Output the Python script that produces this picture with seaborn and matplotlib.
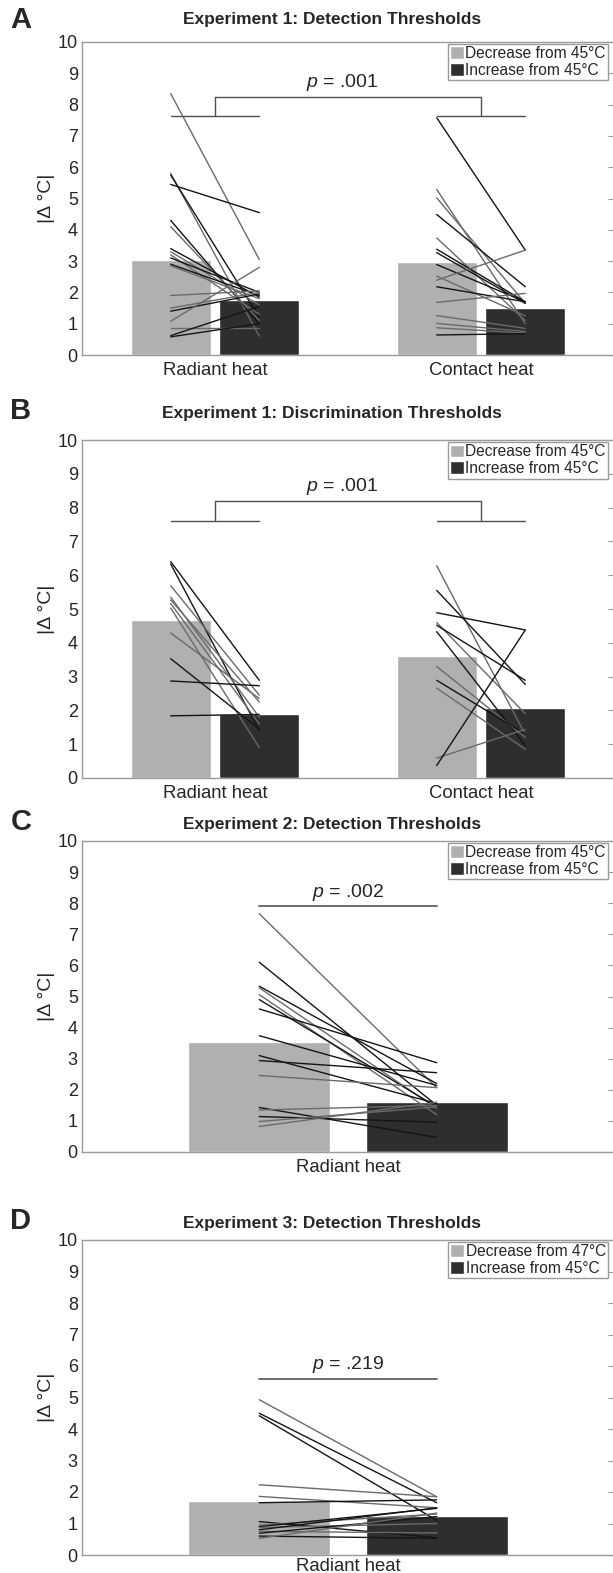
import pandas as pd
import matplotlib.pyplot as plt
import seaborn as sns
from matplotlib.patches import Patch

# ---- data ----
exp1_conditions = ["Radiant heat", "Contact heat"]
exp23_conditions = ["Radiant heat"]

# bar heights (group means)
a_dec_means = [3.02, 2.98]
a_inc_means = [1.77, 1.50]
b_dec_means = [4.68, 3.62]
b_inc_means = [1.90, 2.08]
c_dec_means = [3.55]
c_inc_means = [1.62]
d_dec_means = [1.70]
d_inc_means = [1.25]

# individual subjects, Experiment 1 detection
a_rad_dec = [8.35, 5.80, 5.75, 5.45, 4.30, 4.10, 3.40, 3.30, 3.20, 3.10, 2.90, 2.85, 1.90, 1.50, 1.40, 1.08, 0.85, 0.62, 0.58]
a_rad_inc = [3.05, 0.60, 1.20, 4.55, 1.00, 1.10, 1.85, 1.60, 1.30, 2.00, 1.90, 1.80, 2.05, 2.00, 1.95, 2.80, 0.85, 1.55, 1.00]
a_con_dec = [7.58, 5.29, 5.02, 4.49, 3.74, 3.38, 3.27, 2.89, 2.52, 2.39, 2.18, 1.68, 1.26, 1.01, 0.87, 0.64]
a_con_inc = [3.35, 1.00, 1.65, 2.18, 1.10, 1.70, 1.65, 1.70, 1.25, 3.35, 1.70, 1.97, 0.85, 0.75, 0.70, 0.68]

# Experiment 1 discrimination
b_rad_dec = [6.40, 6.33, 5.69, 5.35, 5.27, 5.16, 5.03, 4.29, 3.53, 2.87, 1.84]
b_rad_inc = [2.89, 1.40, 2.45, 1.80, 2.25, 1.60, 0.90, 2.35, 1.45, 2.73, 1.88]
b_con_dec = [6.28, 5.55, 4.89, 4.60, 4.52, 4.33, 3.30, 2.89, 2.66, 0.59, 0.37]
b_con_inc = [1.28, 2.77, 4.38, 1.90, 2.89, 0.96, 1.20, 1.30, 0.85, 1.44, 4.38]

# Experiment 2 detection
c_rad_dec = [7.66, 6.10, 5.33, 5.28, 5.06, 4.90, 4.60, 3.74, 3.10, 2.94, 2.46, 1.43, 1.35, 1.14, 0.98, 0.82]
c_rad_inc = [2.07, 1.50, 2.20, 1.40, 1.20, 1.45, 2.87, 2.14, 1.56, 2.55, 2.07, 0.47, 1.50, 0.96, 1.45, 1.60]

# Experiment 3 detection
d_rad_dec = [4.93, 4.50, 4.42, 2.23, 1.86, 1.66, 1.06, 0.95, 0.90, 0.87, 0.80, 0.75, 0.69, 0.60, 0.53]
d_rad_inc = [1.85, 1.66, 1.10, 1.85, 1.50, 1.75, 0.55, 1.30, 1.48, 1.00, 1.50, 0.70, 1.22, 0.53, 1.33]

# line tone per subject (g = grey, k = black)
a_rad_tone = "ggkkkgkggkkgggkggkk"
a_con_tone = "kggkgkkkggkggggk"
b_rad_tone = "kkggggggkkk"
b_con_tone = "gkkgkkgkggk"
c_rad_tone = "gkkggkkkkkgkgkgg"
d_rad_tone = "gkkggkkgkgkgkkg"

p_values = [".001", ".001", ".002", ".219"]

LIGHT = "#b0b0b0"
DARK = "#2e2e2e"
TONES = {"g": "#6a6a6a", "k": "#141414"}
SPINE = "#9a9a9a"

sns.set_style("white")
plt.rcParams["font.family"] = ["Liberation Sans", "DejaVu Sans"]
plt.rcParams["mathtext.fontset"] = "custom"
plt.rcParams["mathtext.it"] = "Liberation Sans:italic"
plt.rcParams["mathtext.rm"] = "Liberation Sans"


def draw_panel(ax, conditions, dec_means, inc_means, subjects, labels, width, gap, title,
               title_pad, sig, xpad=5):
    rows = []
    for c, d, i in zip(conditions, dec_means, inc_means):
        rows.append({"condition": c, "direction": labels[0], "threshold": d})
        rows.append({"condition": c, "direction": labels[1], "threshold": i})
    df = pd.DataFrame(rows)
    sns.barplot(data=df, x="condition", y="threshold", hue="direction",
                hue_order=labels, palette=[LIGHT, DARK], saturation=1,
                width=width, gap=gap, errorbar=None, legend=False, ax=ax)

    off = width / 4
    for k, (dec, inc, tone) in enumerate(subjects):
        for y0, y1, t in zip(dec, inc, tone):
            ax.plot([k - off, k + off], [y0, y1], color=TONES[t], lw=1.0, zorder=3)

    # significance marks
    lo, hi, ptxt = sig
    n = len(conditions)
    if n == 2:
        for k in range(2):
            ax.plot([k - off, k + off], [lo, lo], color="#505050", lw=1.0)
            ax.plot([k, k], [lo, hi], color="#505050", lw=1.0)
        ax.plot([0, 1], [hi, hi], color="#505050", lw=1.0)
        ax.text(0.48, hi + 0.12, r"$\it{p}$ = " + ptxt, ha="center", va="bottom", fontsize=14)
    else:
        ax.plot([-off, off], [lo, lo], color="#606060", lw=1.3)
        ax.text(0, lo + 0.12, r"$\it{p}$ = " + ptxt, ha="center", va="bottom", fontsize=14)

    ax.set_xlim(-0.5, n - 0.5)
    ax.set_ylim(0, 10)
    ax.set_yticks(range(11))
    ax.set_xlabel("")
    ax.set_ylabel("|Δ °C|", fontsize=14, labelpad=2)
    ax.set_title(title, fontweight="bold", fontsize=12.5, pad=title_pad, x=0.47)
    ax.tick_params(axis="y", direction="in", length=4, right=True, color=SPINE,
                   labelsize=13, pad=3)
    ax.tick_params(axis="x", length=0, labelsize=13.3, pad=xpad)
    for s in ax.spines.values():
        s.set_visible(True)
        s.set_color(SPINE)
        s.set_linewidth(1.0)

    handles = [Patch(facecolor=LIGHT, label=labels[0]), Patch(facecolor=DARK, label=labels[1])]
    leg = ax.legend(handles=handles, loc="upper right", bbox_to_anchor=(0.989, 0.994),
                    borderaxespad=0, fontsize=11.2, frameon=True, fancybox=False,
                    edgecolor=SPINE, framealpha=1, handlelength=0.85, handleheight=0.9,
                    handletextpad=0.12, borderpad=0.15, labelspacing=0.12)
    leg.get_frame().set_linewidth(1.0)


fig = plt.figure(figsize=(6.13, 15.73), dpi=100)
W, H = 613, 1573
left = 82 / W
width_ax = 532 / W

def rect(top, bottom):
    return [left, 1 - bottom / H, width_ax, (bottom - top) / H]

lab45 = ["Decrease from 45°C", "Increase from 45°C"]
lab47 = ["Decrease from 47°C", "Increase from 45°C"]

ax_a = fig.add_axes(rect(42, 355))
draw_panel(ax_a, exp1_conditions, a_dec_means, a_inc_means,
           [(a_rad_dec, a_rad_inc, a_rad_tone), (a_con_dec, a_con_inc, a_con_tone)],
           lab45, 0.666, 0.1, "Experiment 1: Detection Thresholds", 13,
           (7.65, 8.25, p_values[0]))

ax_b = fig.add_axes(rect(440, 778))
draw_panel(ax_b, exp1_conditions, b_dec_means, b_inc_means,
           [(b_rad_dec, b_rad_inc, b_rad_tone), (b_con_dec, b_con_inc, b_con_tone)],
           lab45, 0.666, 0.1, "Experiment 1: Discrimination Thresholds", 16,
           (7.6, 8.2, p_values[1]))

ax_c = fig.add_axes(rect(841, 1152))
draw_panel(ax_c, exp23_conditions, c_dec_means, c_inc_means,
           [(c_rad_dec, c_rad_inc, c_rad_tone)],
           lab45, 0.667, 0.2, "Experiment 2: Detection Thresholds", 8.5,
           (7.9, None, p_values[2]))

ax_d = fig.add_axes(rect(1240, 1555))
draw_panel(ax_d, exp23_conditions, d_dec_means, d_inc_means,
           [(d_rad_dec, d_rad_inc, d_rad_tone)],
           lab47, 0.667, 0.2, "Experiment 3: Detection Thresholds", 8.5,
           (5.6, None, p_values[3]), xpad=2)

for letter, ypix in zip("ABCD", [20, 411, 822, 1221]):
    fig.text(21 / W, 1 - ypix / H, letter, fontsize=21, fontweight="bold", ha="center", va="center")

fig.savefig("out.png", dpi=100)
